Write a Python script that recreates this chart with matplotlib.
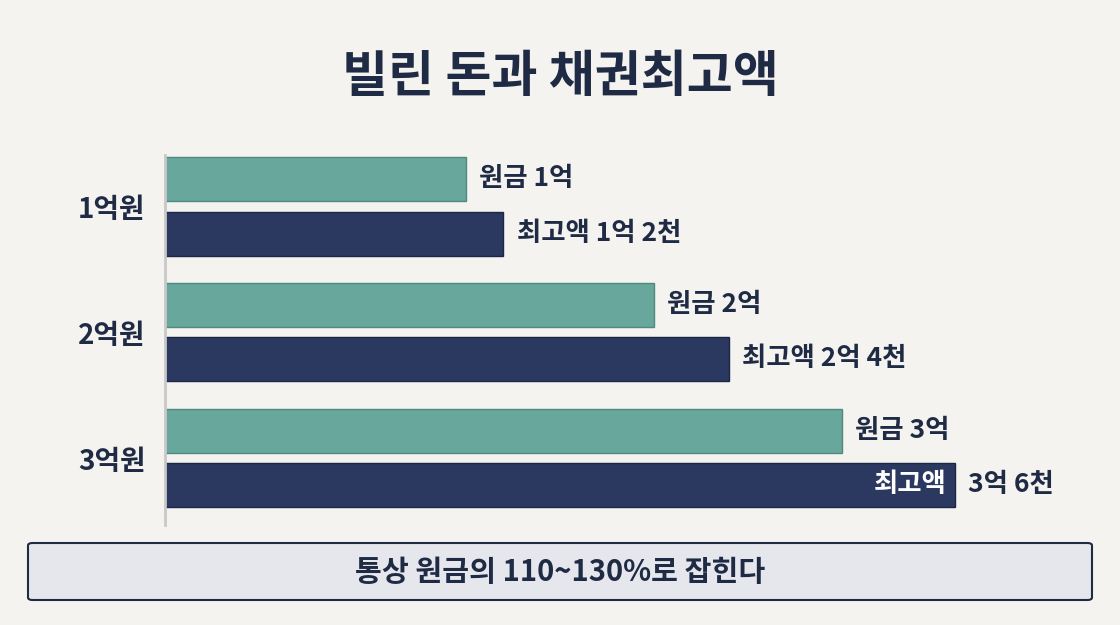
import matplotlib
matplotlib.use('Agg')
import matplotlib.pyplot as plt
from matplotlib.patches import FancyBboxPatch
import numpy as np

plt.rcParams['font.family'] = ['Noto Sans CJK KR', 'DejaVu Sans']

# data
groups = ['1억원', '2억원', '3억원']
principal = [1.0, 2.0, 3.0]
max_amount = [1.2, 2.4, 3.6]
principal_labels = ['원금 1억', '원금 2억', '원금 3억']
max_labels = ['최고액 1억 2천', '최고액 2억 4천', '3억 6천']

BG = '#f4f3ef'
TEAL = '#67a79c'
NAVY = '#2b3961'
TEXT = '#1f2a44'
BASE = -0.6  # bars start a bit left of zero so short bars stay readable

fig = plt.figure(figsize=(11.2, 6.25), dpi=100, facecolor=BG)
W, H = 1120, 625

ax = fig.add_axes([165 / W, 1 - 525 / H, (W - 165) / W, 370 / H])
ax.set_facecolor(BG)
ax.set_xlim(BASE, BASE + (W - 165) / 188)
ax.set_ylim(525, 155)

teal_y = [179, 305, 431]
navy_y = [234, 359, 485]
group_y = [207, 333, 459]
bh = 44

ax.barh(teal_y, np.array(principal) - BASE, left=BASE, height=bh,
        color=TEAL, edgecolor='#4f8a80', linewidth=1)
ax.barh(navy_y, np.array(max_amount) - BASE, left=BASE, height=bh,
        color=NAVY, edgecolor='#1c2645', linewidth=1)

for y, v, lab in zip(teal_y, principal, principal_labels):
    ax.text(v + 0.07, y, lab, va='center', ha='left', fontsize=19,
            fontweight='bold', color=TEXT)
for y, v, lab in zip(navy_y, max_amount, max_labels):
    ax.text(v + 0.07, y, lab, va='center', ha='left', fontsize=19,
            fontweight='bold', color=TEXT)
ax.text(max_amount[-1] - 0.04, navy_y[-1], '최고액', va='center', ha='right',
        fontsize=19, fontweight='bold', color='white')

ax.set_yticks(group_y)
ax.set_yticklabels(groups, fontsize=20, fontweight='bold', color=TEXT)
ax.tick_params(axis='y', length=0, pad=14)
ax.set_xticks([])
for s in ['top', 'right', 'bottom']:
    ax.spines[s].set_visible(False)
ax.spines['left'].set_color('#c8c8c8')
ax.spines['left'].set_linewidth(2)

fig.text(0.5, 1 - 78 / H, '빌린 돈과 채권최고액', ha='center', va='center',
         fontsize=36, fontweight='bold', color=TEXT)

box = FancyBboxPatch((28 / W, 1 - 600 / H), (1092 - 28) / W, 57 / H,
                     boxstyle='round,pad=0,rounding_size=0.004',
                     transform=fig.transFigure, facecolor='#e5e7ec',
                     edgecolor=TEXT, linewidth=1.5)
fig.patches.append(box)
fig.text(0.5, 1 - 572 / H, '통상 원금의 110~130%로 잡힌다', ha='center',
         va='center', fontsize=21, fontweight='bold', color=TEXT)

fig.savefig('out.png', dpi=100, facecolor=BG)
